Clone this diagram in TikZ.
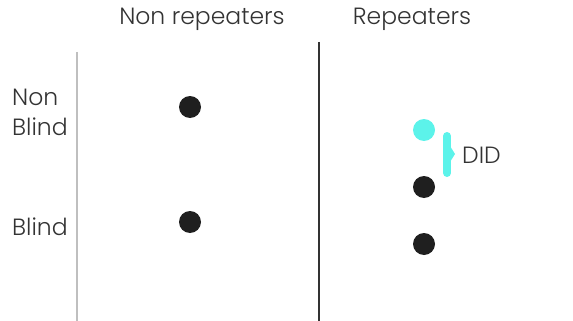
\documentclass[tikz,border=0pt]{standalone}
\usepackage{fontspec}
\setmainfont{Poppins}[UprightFont=* Light]
\definecolor{dotc}{HTML}{1F1F1F}
\definecolor{cyanc}{HTML}{5CF3EA}
\definecolor{txt}{HTML}{333333}
\begin{document}
\begin{tikzpicture}[x=1pt,y=-1pt,
  lbl/.style={inner sep=0pt, text=txt, font=\fontsize{23.5}{30}\selectfont},
  dot/.style={circle, fill=dotc, minimum size=22pt, inner sep=0pt},
]
\useasboundingbox (0,0) rectangle (573,321);
\node[lbl] (nr) at (202,19) {Non repeaters};
\node[lbl] (rp) at (412,19) {Repeaters};
\node[lbl, anchor=base west, align=left] (nb) at (12,135) {Non\\Blind};
\node[lbl, anchor=base west] (bl) at (12,235) {Blind};
\coordinate (g1) at (77,52); \coordinate (g2) at (77,321);
\draw[color=black!25, line width=1.2pt] (g1) -- (g2);
\coordinate (d1) at (319,42); \coordinate (d2) at (319,321);
\draw[color=black!80, line width=2pt] (d1) -- (d2);
\node[dot] (a) at (190,107) {};
\node[dot] (b) at (190,222) {};
\node[dot, fill=cyanc] (c) at (424,130) {};
\node[dot] (e) at (424,187) {};
\node[dot] (f) at (424,244) {};
\coordinate (k1) at (447,136); \coordinate (k2) at (447,173);
\draw[cyanc, line width=8pt, line cap=round] (k1) -- (k2);
\coordinate (p0) at (450,146); \coordinate (p1) at (455,154); \coordinate (p2) at (450,162);
\fill[cyanc] (p0) -- (p1) -- (p2) -- cycle;
\node[lbl, anchor=west] (did) at (462,155) {DID};
\end{tikzpicture}
\end{document}
